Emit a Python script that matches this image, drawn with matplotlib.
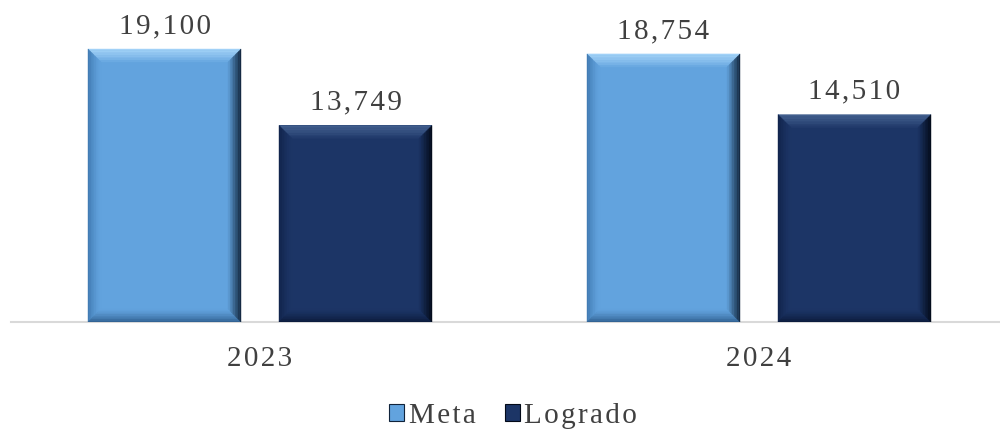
import matplotlib
matplotlib.use("Agg")
import matplotlib.pyplot as plt
import matplotlib.colors as mcolors
import numpy as np
from matplotlib.patches import Polygon, Patch

years = ["2023", "2024"]
meta = [19100, 18754]
logrado = [13749, 14510]

series_names = ["Meta", "Logrado"]
series_colors = ["#62a3de", "#1c3566"]
# bevel edge colours: top, left, bottom, right (outer edge of each band)
bevel_colors = [
    ["#a4d3f8", "#3f78b0", "#2f5f8f", "#10233a"],
    ["#43608f", "#10224a", "#0b1a3a", "#030a18"],
]

HS = "\u200a"  # hair space, for the wide letter spacing


def spaced(s):
    return HS.join(s)


W, H = 1000, 433
plt.rcParams['font.family'] = ['Liberation Serif', 'DejaVu Serif']
fig = plt.figure(figsize=(W / 100, H / 100), dpi=100)

# axes placed in pixels: baseline at y=322, x from 11 to 1000
ax_left, ax_right = 11, 1000
ax_bottom, ax_top = 322, 10
ax = fig.add_axes([ax_left / W, (H - ax_bottom) / H,
                   (ax_right - ax_left) / W, (ax_bottom - ax_top) / H])

# category centres at pixel 260 and 759
c0, c1 = 260, 759
px_per_cat = c1 - c0
xmin = (ax_left - c0) / px_per_cat
xmax = (ax_right - c0) / px_per_cat
ymax = meta[0] * (ax_bottom - ax_top) / (ax_bottom - 49)
ax.set_xlim(xmin, xmax)
ax.set_ylim(0, ymax)

dx = (xmax - xmin) / (ax_right - ax_left)   # data units per pixel
dy = ymax / (ax_bottom - ax_top)

x = np.arange(len(years))
width = 153 / px_per_cat
offset = 95.5 / px_per_cat
bev = 13
nstrip = 8
expo = [0.7, 1.4, 1.3, 0.9]   # how fast each side fades into the face


def bevel(x0, x1, y0, y1, main, outers):
    bx, by = bev * dx, bev * dy
    m = np.array(mcolors.to_rgb(main))
    for i in range(nstrip):
        ta, tb = i / nstrip, (i + 1) / nstrip   # 0 = outer edge
        mix = 1 - (ta + tb) / 2
        ox0, ox1, oy0, oy1 = x0 + bx * ta, x1 - bx * ta, y0 + by * ta, y1 - by * ta
        ix0, ix1, iy0, iy1 = x0 + bx * tb, x1 - bx * tb, y0 + by * tb, y1 - by * tb
        sides = [
            [[ox0, oy1], [ox1, oy1], [ix1, iy1], [ix0, iy1]],   # top
            [[ox0, oy0], [ox0, oy1], [ix0, iy1], [ix0, iy0]],   # left
            [[ox0, oy0], [ox1, oy0], [ix1, iy0], [ix0, iy0]],   # bottom
            [[ox1, oy0], [ox1, oy1], [ix1, iy1], [ix1, iy0]],   # right
        ]
        for pts, oc, e in zip(sides, outers, expo):
            w = mix ** e
            c = m * (1 - w) + np.array(mcolors.to_rgb(oc)) * w
            ax.add_patch(Polygon(pts, closed=True, facecolor=c, edgecolor=c,
                                 lw=0.3, zorder=3))


for k, vals in enumerate([meta, logrado]):
    pos = x + (-offset if k == 0 else offset)
    bars = ax.bar(pos, vals, width, color=series_colors[k], zorder=2)
    for b in bars:
        x0, x1 = b.get_x(), b.get_x() + b.get_width()
        bevel(x0, x1, 0, b.get_height(), series_colors[k], bevel_colors[k])
        ax.annotate(spaced(f"{int(b.get_height()):,}"),
                    xy=(b.get_x() + b.get_width() / 2, b.get_height()),
                    xytext=(0, 11.5), textcoords="offset points",
                    ha='center', va='baseline', fontsize=21, color='#404040')

ax.set_xticks(x)
ax.set_xticklabels([spaced(y) for y in years], fontsize=21, color='#404040')
ax.tick_params(axis='x', length=0, pad=17)
ax.set_yticks([])
for s in ['top', 'right', 'left']:
    ax.spines[s].set_visible(False)
ax.spines['bottom'].set_color('#d9d9d9')
ax.spines['bottom'].set_linewidth(1.5)
ax.spines['bottom'].set_zorder(1)

handles = [Patch(facecolor=series_colors[i], edgecolor=bevel_colors[i][3],
                 linewidth=0.8, label=spaced(series_names[i])) for i in range(2)]
fig.legend(handles=handles, loc='center', bbox_to_anchor=(513 / W, (H - 416) / H),
           ncol=2, frameon=False, fontsize=21, labelcolor='#404040',
           handlelength=0.52, handleheight=0.52, handletextpad=0.15, columnspacing=1.0)

fig.savefig("out.png", dpi=100)
